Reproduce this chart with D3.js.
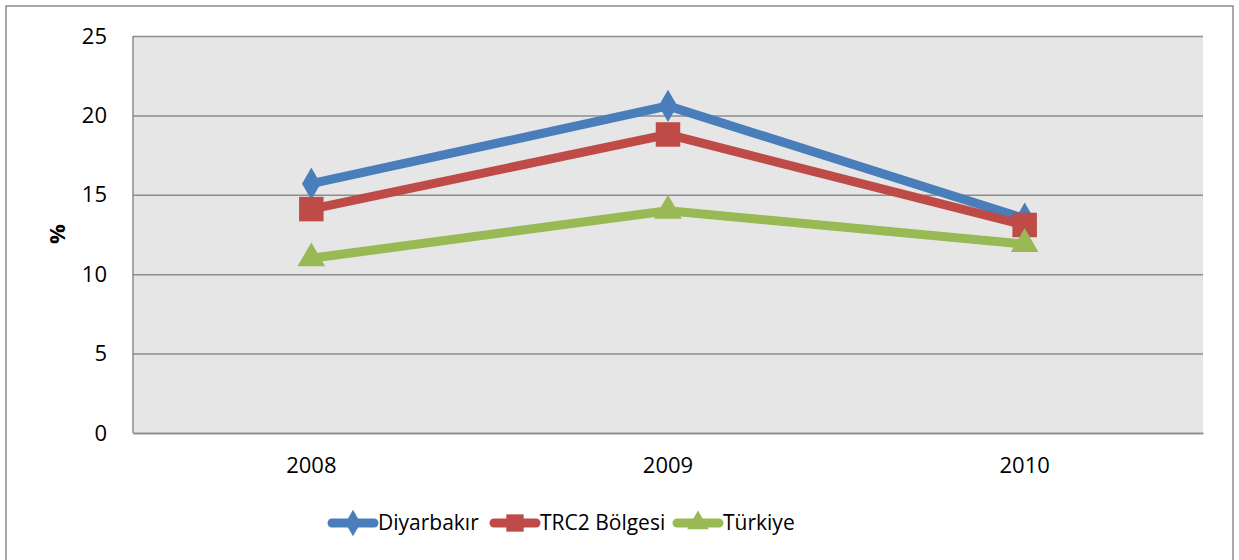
<!DOCTYPE html>
<html>
<head>
<meta charset="utf-8">
<script src="https://cdn.jsdelivr.net/npm/d3@7"></script>
<style>
  body { margin: 0; background: #fff; }
  text { font-family: "Open Sans", "Noto Sans", sans-serif; fill: #000; }
</style>
</head>
<body>
<div id="chart"></div>
<script>
const years = ['2008', '2009', '2010'];
const diyarbakir = [15.7, 20.6, 13.5];
const trc2 = [14.1, 18.8, 13.1];
const turkiye = [11.0, 14.0, 11.9];
const yTicks = [0, 5, 10, 15, 20, 25];

const series = [
    { name: 'Diyarbakır', values: diyarbakir, color: '#4a7ebb', symbol: d3.symbolDiamond },
    { name: 'TRC2 Bölgesi', values: trc2, color: '#be4b48', symbol: d3.symbolSquare },
    { name: 'Türkiye', values: turkiye, color: '#98b954', symbol: d3.symbolTriangle }
];
const markerSize = [300, 600, 330];
const legendMarkerSize = [200, 300, 200];

const width = 1239, height = 560;
const margin = { top: 36, right: 36, bottom: 127, left: 133 };
const innerW = width - margin.left - margin.right;
const innerH = height - margin.top - margin.bottom;

const svg = d3.select('#chart').append('svg')
    .attr('width', width)
    .attr('height', height);

// outer frame
svg.append('rect')
    .attr('x', 6).attr('y', 6)
    .attr('width', 1227).attr('height', 570)
    .attr('fill', '#fff')
    .attr('stroke', '#8c8c8c')
    .attr('stroke-width', 1.5);

const chart = svg.append('g')
    .attr('transform', `translate(${margin.left},${margin.top})`);

const xScale = d3.scaleBand().domain(years).range([0, innerW]);
const yScale = d3.scaleLinear().domain([0, 25]).range([innerH, 0]);

chart.append('rect')
    .attr('width', innerW).attr('height', innerH)
    .attr('fill', '#e6e6e6');

// gridlines + y labels
const yAxis = d3.axisLeft(yScale).tickValues(yTicks).tickSize(-innerW).tickPadding(26);
chart.append('g')
    .call(yAxis)
    .call(g => g.select('.domain').remove())
    .call(g => g.selectAll('.tick line').attr('stroke', '#8c8c8c').attr('stroke-width', 1.5))
    .call(g => g.selectAll('.tick text').attr('font-size', 22).attr('font-family', '"Open Sans", sans-serif'));

chart.append('line')
    .attr('x1', 0).attr('x2', 0).attr('y1', 0).attr('y2', innerH)
    .attr('stroke', '#8c8c8c').attr('stroke-width', 1.5);

const xAxis = d3.axisBottom(xScale).tickSize(0).tickPadding(24);
chart.append('g')
    .attr('transform', `translate(0,${innerH})`)
    .call(xAxis)
    .call(g => g.select('.domain').attr('stroke', '#8c8c8c').attr('stroke-width', 1.5))
    .call(g => g.selectAll('.tick text').attr('font-size', 22).attr('font-family', '"Open Sans", sans-serif'));

svg.append('text')
    .attr('transform', 'translate(65,234) rotate(-90)')
    .attr('text-anchor', 'middle')
    .attr('font-size', 22)
    .attr('font-weight', 'bold')
    .text('%');

const line = d3.line()
    .x((d, i) => xScale(years[i]) + xScale.bandwidth() / 2)
    .y(d => yScale(d));

series.forEach(s => {
    chart.append('path')
        .attr('d', line(s.values))
        .attr('fill', 'none')
        .attr('stroke', s.color)
        .attr('stroke-width', 9)
        .attr('stroke-linejoin', 'round');
});

series.forEach((s, k) => {
    chart.selectAll(null)
        .data(s.values)
        .join('path')
        .attr('transform', (d, i) => `translate(${xScale(years[i]) + xScale.bandwidth() / 2},${yScale(d)})`)
        .attr('d', d3.symbol().type(s.symbol).size(markerSize[k]))
        .attr('fill', s.color);
});

// legend
const legendX = [329, 491, 674];
const legendY = 523;
series.forEach((s, i) => {
    const g = svg.append('g').attr('transform', `translate(${legendX[i]},${legendY})`);
    g.append('line')
        .attr('x1', 3).attr('x2', 45)
        .attr('stroke', s.color)
        .attr('stroke-width', 9)
        .attr('stroke-linecap', 'round');
    g.append('path')
        .attr('transform', 'translate(24,0)')
        .attr('d', d3.symbol().type(s.symbol).size(legendMarkerSize[i]))
        .attr('fill', s.color);
    g.append('text')
        .attr('x', 49)
        .attr('dy', '0.35em')
        .attr('font-size', 21)
        .text(s.name);
});
</script>
</body>
</html>
